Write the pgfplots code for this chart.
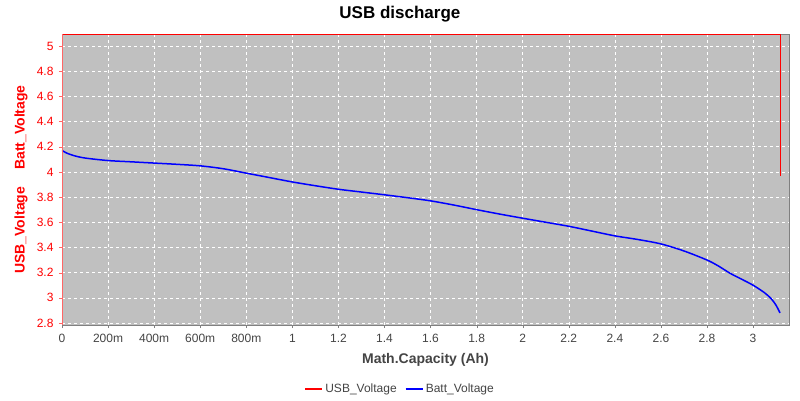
\documentclass[border=0pt]{standalone}
\usepackage{pgfplots}
\pgfplotsset{compat=1.18}
\usepackage{fontspec}
\setmainfont{Liberation Sans}
\definecolor{plotbg}{RGB}{192,192,192}
\definecolor{txtgray}{RGB}{68,68,68}
\definecolor{framegray}{RGB}{128,128,128}
\begin{document}
\begin{tikzpicture}
\path[use as bounding box] (-62pt,-75pt) rectangle (738pt,325pt);
\begin{axis}[
  at={(0pt,0pt)}, anchor=south west,
  scale only axis,
  width=727pt, height=291pt,
  xmin=0, xmax=3.156, ymin=2.784, ymax=5.095,
  axis background/.style={fill=plotbg},
  axis line style={framegray},
  grid=major,
  major grid style={white, dashed, line width=0.5pt},
  xtick={0,0.2,0.4,0.6,0.8,1,1.2,1.4,1.6,1.8,2,2.2,2.4,2.6,2.8,3},
  xticklabels={0,200m,400m,600m,800m,1,1.2,1.4,1.6,1.8,2,2.2,2.4,2.6,2.8,3},
  ytick={2.8,3,3.2,3.4,3.6,3.8,4,4.2,4.4,4.6,4.8,5},
  yticklabels={2.8,3,3.2,3.4,3.6,3.8,4,4.2,4.4,4.6,4.8,5},
  tick align=outside,
  major tick length=3pt,
  tick pos=left,
  x tick style={framegray},
  y tick style={red!60},
  x tick label style={font=\fontsize{12}{14}\selectfont, text=txtgray, yshift=-3pt},
  y tick label style={font=\fontsize{12}{14}\selectfont, text=red, xshift=-2pt},
  xlabel={\textbf{Math.Capacity (Ah)}},
  xlabel style={font=\fontsize{14}{16}\selectfont, text=txtgray, at={(axis description cs:0.5,0)}, anchor=center, yshift=-35pt},
  ylabel={\textbf{USB\_Voltage\hspace{17pt}Batt\_Voltage}},
  ylabel style={font=\fontsize{14}{16}\selectfont, text=red, at={(axis description cs:-0.0564,0.5)}, anchor=center},
  title={\textbf{USB discharge}},
  title style={font=\fontsize{17}{19}\selectfont, at={(axis description cs:-0.0352,1)}, anchor=center, xshift=338pt+25.5pt, yshift=14pt},
  legend style={draw=none, fill=none, font=\fontsize{12}{14}\selectfont,
    legend columns=2, at={(axis description cs:0.465,-0.22)}, anchor=center,
    /tikz/every even column/.append style={column sep=6pt}},
  legend image post style={line width=2pt},
]
\addplot[red, line width=1pt] coordinates {(0,5.09) (3.117,5.09) (3.117,3.97)};
\addlegendentry{\textcolor{txtgray}{USB\_Voltage}}
\addplot[blue, line width=1.5pt, smooth, tension=0.5] coordinates {
(0,4.17) (0.02,4.15) (0.05,4.13) (0.1,4.11) (0.2,4.09) (0.3,4.08) (0.4,4.07)
(0.5,4.06) (0.6,4.048) (0.7,4.025) (0.8,3.99) (0.9,3.955) (1.0,3.92) (1.1,3.89)
(1.2,3.862) (1.3,3.84) (1.4,3.818) (1.5,3.795) (1.6,3.77) (1.7,3.737) (1.8,3.70)
(1.9,3.665) (2.0,3.632) (2.1,3.60) (2.2,3.568) (2.3,3.53) (2.4,3.492) (2.5,3.463)
(2.6,3.428) (2.7,3.372) (2.8,3.30) (2.85,3.252) (2.9,3.195) (2.95,3.148) (3.0,3.10)
(3.05,3.04) (3.08,2.99) (3.1,2.94) (3.117,2.88)};
\addlegendentry{\textcolor{txtgray}{Batt\_Voltage}}
\draw[red!60] (rel axis cs:0,0) -- (rel axis cs:0,1);
\end{axis}
\end{tikzpicture}
\end{document}
